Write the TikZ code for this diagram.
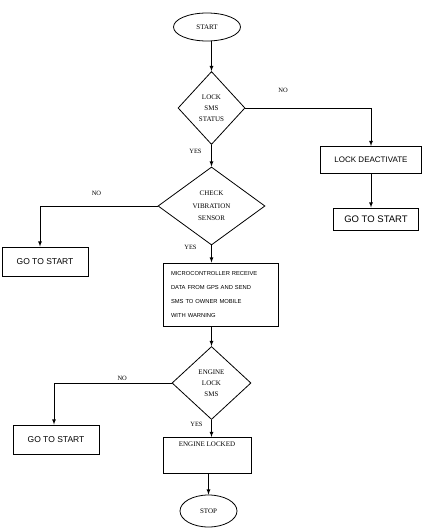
\documentclass[tikz,border=0pt]{standalone}
\usepackage{fontspec}
\setmainfont{Liberation Serif}
\setsansfont{Liberation Sans}
\usetikzlibrary{shapes.geometric}

\begin{document}
\begin{tikzpicture}[x=1pt, y=-1pt, >=latex, line width=0.8pt,
    every node/.style={font=\fontsize{7}{11}\selectfont},
    term/.style={draw, ellipse, inner sep=0pt},
    dec/.style={draw, diamond, inner sep=0pt, align=center},
    proc/.style={draw, rectangle, line width=1pt, font=\sffamily\fontsize{8.5}{10}\selectfont},
    lab/.style={font=\fontsize{6.5}{7}\selectfont, inner sep=1.5pt}]
  \useasboundingbox (0,0) rectangle (429,529);

  \node[term, minimum width=67pt, minimum height=28pt] (start) at (207,27) {START};
  \node[dec, minimum width=67pt, minimum height=73pt] (lock) at (211.5,108) {LOCK\\SMS\\STATUS};
  \node[proc, minimum width=101pt, minimum height=27pt, font=\sffamily\fontsize{8}{10}\selectfont] (deact) at (371,160) {LOCK DEACTIVATE};
  \node[proc, minimum width=85pt, minimum height=22pt, font=\sffamily\fontsize{9.5}{10}\selectfont] (goA) at (376,219) {GO TO START};
  \node[dec, minimum width=107pt, minimum height=78pt, font=\fontsize{7}{12.5}\selectfont] (vib) at (211.5,206) {CHECK\\VIBRATION\\SENSOR};
  \node[proc, minimum width=86pt, minimum height=29pt] (goB) at (45,261.5) {GO TO START};
  \node[proc, minimum height=63pt, inner xsep=8pt, text width=99pt, align=left, font=\sffamily\fontsize{5.8}{13.7}\selectfont] (mcu) at (220.5,294.5)
    {MICROCONTROLLER RECEIVE\\DATA FROM GPS AND SEND\\SMS TO OWNER MOBILE\\WITH WARNING};
  \node[dec, minimum width=79pt, minimum height=73pt] (eng) at (211.5,383) {ENGINE\\LOCK\\SMS};
  \node[proc, minimum width=86pt, minimum height=29pt] (goC) at (56,439.5) {GO TO START};
  \node[proc, anchor=north, minimum width=88pt, text height=5pt, text depth=23pt, inner ysep=4pt, font=\fontsize{7}{8}\selectfont] (locked) at (207,437) {ENGINE LOCKED};
  \node[term, minimum width=57pt, minimum height=32pt] (stop) at (208.5,511) {STOP};

  \draw[->] (start.south -| lock.north) -- (lock.north);
  \draw[->] (lock.east) -| node[pos=0.15, above=14pt, lab]{NO} (deact);
  \draw[->] (deact) -- (deact.south |- goA.north);
  \draw[->] (lock) -- node[left=8pt, pos=0.32, lab]{YES} (vib);
  \draw[->] (vib.west) -| node[pos=0.26, above=9pt, lab]{NO} ([xshift=-5pt]goB.north);
  \draw[->] (vib) -- node[left=13pt, pos=0.12, lab]{YES} (vib.south |- mcu.north);
  \draw[->] (mcu.south -| eng.north) -- (eng.north);
  \draw[->] (eng.west) -| node[pos=0.21, above=1pt, lab]{NO} ([xshift=-2pt]goC.north);
  \draw[->] (eng) -- node[left=7pt, pos=0.25, lab]{YES} (eng.south |- locked.north);
  \draw[->] (locked.south -| stop.north) -- (stop.north);
\end{tikzpicture}
\end{document}
